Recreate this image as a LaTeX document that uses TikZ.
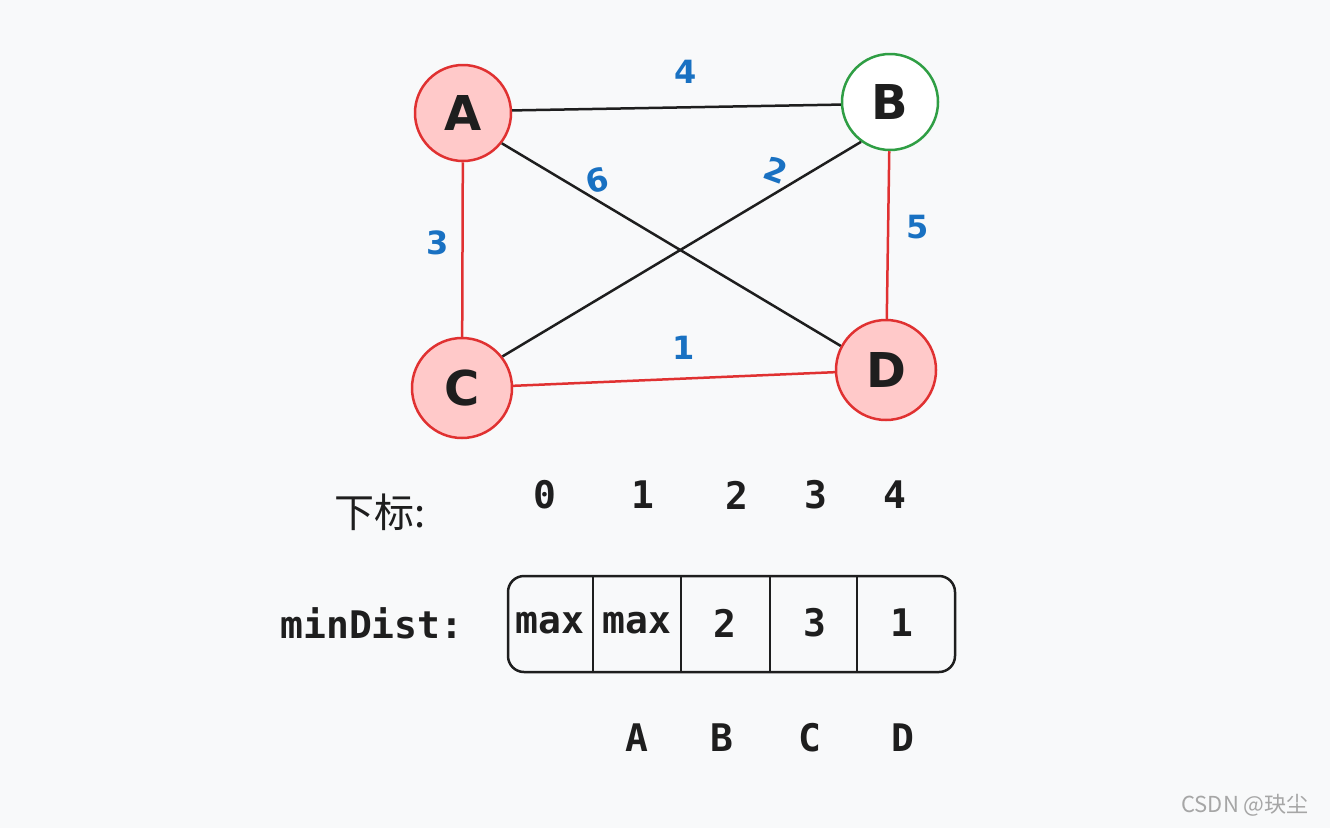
\documentclass[tikz,border=0pt]{standalone}
\usepackage{fontspec}
\setmonofont{DejaVu Sans Mono}
\setsansfont{DejaVu Sans}
\newfontfamily\cjk{Noto Sans CJK SC}
\definecolor{bg}{HTML}{F8F9FA}
\definecolor{pinkf}{HTML}{FFC9C9}
\definecolor{redl}{HTML}{E03131}
\definecolor{greenl}{HTML}{2F9E44}
\definecolor{bluel}{HTML}{1971C2}
\definecolor{ink}{HTML}{1E1E1E}
\begin{document}
\begin{tikzpicture}[x=1pt,y=-1pt,
  vert/.style={circle,draw=redl,fill=pinkf,line width=2.5pt,minimum size=96pt,inner sep=0pt,font=\sffamily\bfseries\fontsize{48}{48}\selectfont,text=ink},
  wt/.style={text=bluel,font=\sffamily\bfseries\fontsize{32}{32}\selectfont},
  blk/.style={draw=ink,line width=2.5pt},
  rd/.style={draw=redl,line width=2.5pt},
  txt/.style={text=ink,font=\ttfamily\bfseries\fontsize{38}{38}\selectfont}]
\fill[bg] (0,0) rectangle (1330,828);
\useasboundingbox (0,0) rectangle (1330,828);
\node[vert] (A) at (463,113) {A};
\node[vert,draw=greenl,fill=white] (B) at (890,102) {B};
\node[vert,minimum size=100pt] (C) at (462,388) {C};
\node[vert,minimum size=100pt] (D) at (886,370) {D};
\draw[blk] (A.3) -- (B.183);
\draw[blk] (A.-38) -- (D.152);
\draw[blk] (B.-126) -- (C.38);
\draw[rd] (A) -- (C);
\draw[rd] (B) -- (D);
\draw[rd] (C) -- (D);
\node[wt] (w4) at (686,72) {4};
\node[wt,rotate=15] (w6) at (597,180) {6};
\node[wt,rotate=-20] (w2) at (776,170) {2};
\node[wt] (w3) at (438,243) {3};
\node[wt] (w5) at (918,227) {5};
\node[wt] (w1) at (684,348) {1};
\node[txt,font=\cjk\fontsize{40}{40}\selectfont] (xb) at (380,512) {下标:};
\foreach \x/\d in {545/0,643/1,737/2,816/3,895/4}
  \node[txt] (i\d) at (\x,495) {\d};
\node[txt] (md) at (372,623) {minDist:};
\draw[blk,rounded corners=16pt] (508,576) rectangle (955,672);
\foreach \x in {593,681,770,857} \draw[blk] (\x,576) -- (\x,672);
\foreach \x/\t [count=\i] in {550/max,637/max,725/2,815/3,902/1}
  \node[txt] (c\i) at (\x,623) {\t};
\foreach \x/\t in {637/A,722/B,810/C,903/D}
  \node[txt] (l\t) at (\x,738) {\t};
\node[text=gray!70,font=\cjk\fontsize{22}{22}\selectfont] (wm) at (1245,805) {CSDN @玦尘};
\end{tikzpicture}
\end{document}
